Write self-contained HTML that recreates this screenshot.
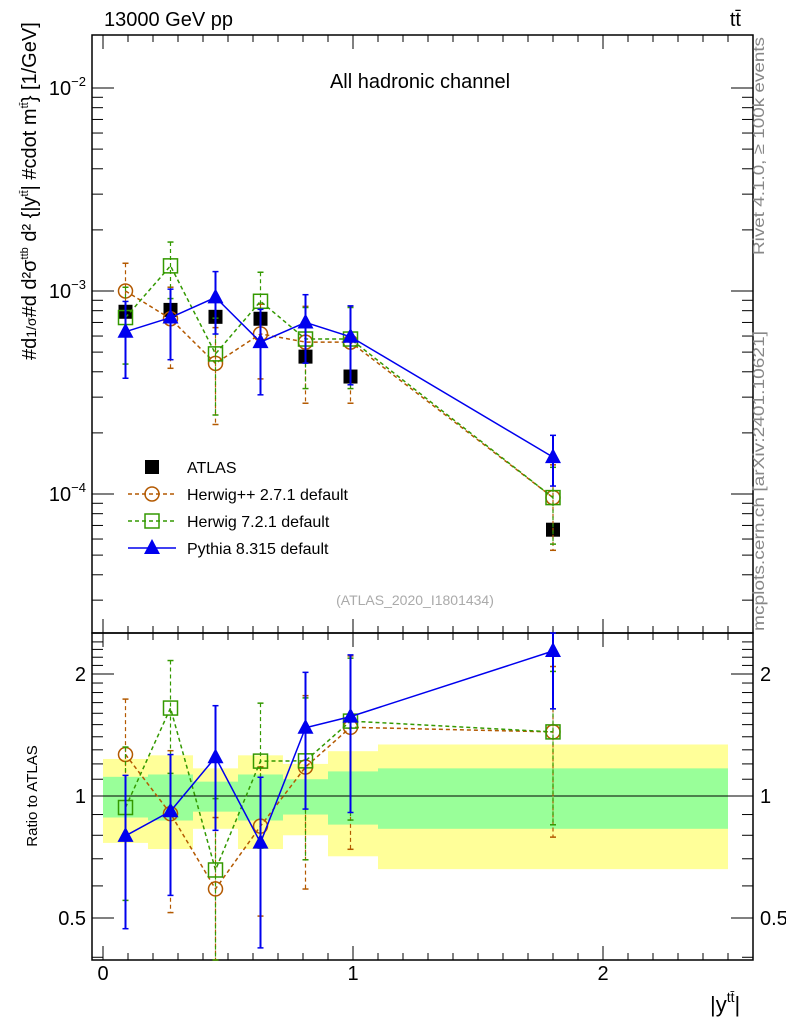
<!DOCTYPE html>
<html><head><meta charset="utf-8"><style>
html,body{margin:0;padding:0;background:#fff}
svg{display:block;font-family:"Liberation Sans",sans-serif}
</style></head><body>
<svg id="chart" width="786" height="1024" viewBox="0 0 786 1024" xmlns="http://www.w3.org/2000/svg">
<g id="bands"></g><g id="axes"></g><g id="marks"></g><g id="labels"></g>
</svg>
<script>
const xCenters=[0.09,0.27,0.45,0.63,0.81,0.99,1.8];
const binEdges=[0,0.18,0.36,0.54,0.72,0.9,1.1,2.5];
const atlas=[7.9e-4,8.07e-4,7.46e-4,7.3e-4,4.75e-4,3.79e-4,6.67e-5];
const herwigpp=[1.0e-3,7.3e-4,4.4e-4,6.15e-4,5.6e-4,5.6e-4,9.6e-5];
const herwigppErr=[0.37,0.43,0.5,0.4,0.5,0.5,0.45];
const herwig7=[7.4e-4,1.33e-3,4.9e-4,8.9e-4,5.8e-4,5.8e-4,9.6e-5];
const herwig7Err=[0.41,0.31,0.5,0.39,0.43,0.43,0.41];
const pythia=[6.3e-4,7.4e-4,9.3e-4,5.6e-4,7.0e-4,5.95e-4,1.52e-4];
const pythiaErr=[0.41,0.38,0.34,0.45,0.37,0.42,0.28];
const bandTotal=[0.234,0.26,0.17,0.26,0.2,0.29,0.34];
const bandStat=[0.115,0.13,0.085,0.13,0.10,0.15,0.17];
const xTicks=[0,1,2];
const mainTicks=[-2,-3,-4];
const ratioTicks=[2,1,0.5];

const NS="http://www.w3.org/2000/svg";
const L=92,R=753,T=35,MID=633,B=960;
const X=v=>103+v*250;
const Ym=v=>291-(Math.log10(v)+3)*203;
const Yr=v=>796-Math.log2(v)*122;
function el(par,tag,attrs,txt){const e=document.createElementNS(NS,tag);for(const k in attrs)e.setAttribute(k,attrs[k]);if(txt!==undefined)e.textContent=txt;document.getElementById(par).appendChild(e);return e;}

for(let i=0;i<bandTotal.length;i++){
 const x1=X(binEdges[i]),x2=X(binEdges[i+1]);
 let e=el('bands','rect',{x:x1,y:Yr(1+bandTotal[i]),width:x2-x1,height:Yr(1-bandTotal[i])-Yr(1+bandTotal[i]),fill:'#ffff99'});
 
 
 e=el('bands','rect',{x:x1,y:Yr(1+bandStat[i]),width:x2-x1,height:Yr(1-bandStat[i])-Yr(1+bandStat[i]),fill:'#99ff99'});
 
 
}
el('bands','line',{x1:L,x2:R,y1:Yr(1),y2:Yr(1),stroke:'#000','stroke-width':1});

let f=el('axes','rect',{x:L,y:T,width:R-L,height:MID-T,fill:'none',stroke:'#000','stroke-width':1.5});

f=el('axes','rect',{x:L,y:MID,width:R-L,height:B-MID,fill:'none',stroke:'#000','stroke-width':1.5});

for(let v=0;v<=2.6;v+=0.1){const x=X(v);if(x<L||x>R)continue;const maj=Math.abs(v-Math.round(v))<1e-6;const len=maj?14:7;
 for(const y0 of [T,MID]) el('axes','line',{x1:x,x2:x,y1:y0,y2:y0+len,stroke:'#000'});
 for(const y0 of [MID,B]) el('axes','line',{x1:x,x2:x,y1:y0,y2:y0-len,stroke:'#000'});}
xTicks.forEach(v=>{const e=el('labels','text',{x:X(v),y:980,'font-size':20,'text-anchor':'middle'},String(v));});
for(let d=-5;d<=-1;d++)for(let m=1;m<10;m++){const v=m*Math.pow(10,d);const y=Ym(v);if(y<T||y>MID)continue;const len=m==1?22:11;
 el('axes','line',{x1:L,x2:L+len,y1:y,y2:y,stroke:'#000'});el('axes','line',{x1:R,x2:R-len,y1:y,y2:y,stroke:'#000'});}
mainTicks.forEach(p=>{const e=el('labels','text',{x:86,y:Ym(Math.pow(10,p))+7,'font-size':20,'text-anchor':'end'});e.innerHTML='10<tspan dy="-9" font-size="13">−'+(-p)+'</tspan>';});
for(let v=0.4;v<=2.5;v+=0.1){const y=Yr(v);if(y<MID||y>B)continue;const maj=[0.5,1,2].some(t=>Math.abs(t-v)<1e-6);const len=maj?22:11;
 el('axes','line',{x1:L,x2:L+len,y1:y,y2:y,stroke:'#000'});el('axes','line',{x1:R,x2:R-len,y1:y,y2:y,stroke:'#000'});}
ratioTicks.forEach(v=>{let e=el('labels','text',{x:86,y:Yr(v)+7,'font-size':20,'text-anchor':'end'},String(v));
 e=el('labels','text',{x:760,y:Yr(v)+7,'font-size':20},String(v));});

function marker(g,type,x,y,color){
 if(type=='sq') return el(g,'rect',{x:x-7,y:y-7,width:14,height:14,fill:'none',stroke:color,'stroke-width':1.5});
 if(type=='ci') return el(g,'circle',{cx:x,cy:y,r:7,fill:'none',stroke:color,'stroke-width':1.5});
 if(type=='tr') return el(g,'polygon',{points:`${x},${y-9} ${x-8},${y+6} ${x+8},${y+6}`,fill:color});
 if(type=='fs') return el(g,'rect',{x:x-7,y:y-7,width:14,height:14,fill:'#000'});
}
const series=[
 {name:'herwigpp',vals:herwigpp,err:herwigppErr,color:'#b35900',dash:'4,3',mk:'ci'},
 {name:'herwig7',vals:herwig7,err:herwig7Err,color:'#339900',dash:'4,3',mk:'sq'},
 {name:'pythia',vals:pythia,err:pythiaErr,color:'#0000ee',dash:'',mk:'tr'}];
atlas.forEach((v,i)=>{const m=marker('marks','fs',X(xCenters[i]),Ym(v));});
series.forEach(s=>{
 for(const panel of ['main','ratio']){
  const yf=panel=='main'?(i,v)=>Ym(v):(i,v)=>Yr(v/atlas[i]);
  const clip=y=>Math.max(panel=='main'?T:MID,Math.min(panel=='main'?MID:B,y));
  const pts=s.vals.map((v,i)=>X(xCenters[i])+','+yf(i,v)).join(' ');
  const pl=el('marks','polyline',{points:pts,fill:'none',stroke:s.color,'stroke-width':1.5,'stroke-dasharray':s.dash});
  
  s.vals.forEach((v,i)=>{const x=X(xCenters[i]);const y1=clip(yf(i,v*(1+s.err[i]))),y2=clip(yf(i,v*(1-s.err[i])));
   const eb=el('marks','line',{x1:x,x2:x,y1:y1,y2:y2,stroke:s.color,'stroke-width':s.dash?1.2:2,'stroke-dasharray':s.dash});
   
   el('marks','line',{x1:x-3,x2:x+3,y1:y1,y2:y1,stroke:s.color,'stroke-width':1.5});
   el('marks','line',{x1:x-3,x2:x+3,y1:y2,y2:y2,stroke:s.color,'stroke-width':1.5});
   const m=marker('marks',s.mk,x,yf(i,v),s.color);});
 }
});

const leg=[['ATLAS','fs','#000',null],['Herwig++ 2.7.1 default','ci','#b35900','4,3'],['Herwig 7.2.1 default','sq','#339900','4,3'],['Pythia 8.315 default','tr','#0000ee','']];
leg.forEach((l,i)=>{const y=467+i*27;
 if(l[3]!==null) el('labels','line',{x1:128,x2:176,y1:y,y2:y,stroke:l[2],'stroke-width':1.5,'stroke-dasharray':l[3]});
 marker('labels',l[1],152,y,l[2]);
 const t=el('labels','text',{x:187,y:y+6,'font-size':16},l[0]);});

function txt(x,y,s,attrs,name){const t=el('labels','text',Object.assign({x:x,y:y},attrs),s);return t;}
txt(104,26,'13000 GeV pp',{'font-size':20},'energy-label');
txt(741,26,'tt̄',{'font-size':20,'text-anchor':'end'},'process-label');
txt(420,88,'All hadronic channel',{'font-size':20,'text-anchor':'middle'},'channel-title');
txt(415,605,'(ATLAS_2020_I1801434)',{'font-size':14,'text-anchor':'middle',fill:'#aaa'},'analysis-id');
txt(0,0,'Rivet 4.1.0, ≥ 100k events',{'font-size':16,fill:'#888',textLength:218,lengthAdjust:'spacingAndGlyphs',transform:'translate(764,255) rotate(-90)'},'rivet-version');
txt(0,0,'mcplots.cern.ch [arXiv:2401.10621]',{'font-size':16,fill:'#888',textLength:300,lengthAdjust:'spacingAndGlyphs',transform:'translate(764,631) rotate(-90)'},'mcplots-credit');
txt(0,0,'Ratio to ATLAS',{'font-size':15,'text-anchor':'middle',transform:'translate(37,796) rotate(-90)'},'ratio-y-axis-title');
let yt=txt(0,0,'',{'font-size':20,transform:'translate(36,360) rotate(-90)'},'y-axis-title');
yt.innerHTML='#d<tspan font-size="14">1/σ</tspan>#d <tspan>d²σ<tspan dy="-8" font-size="11">ttb</tspan></tspan><tspan dy="8"> d² {|y</tspan><tspan dy="-8" font-size="11">tt̄</tspan><tspan dy="8">| #cdot m</tspan><tspan dy="-8" font-size="11">tt̄</tspan><tspan dy="8">} [1/GeV]</tspan>';
let xt=txt(710,1012,'',{'font-size':22},'x-axis-title');
xt.innerHTML='|y<tspan dy="-10" font-size="14">tt̄</tspan><tspan dy="10">|</tspan>';
</script>
</body></html>
